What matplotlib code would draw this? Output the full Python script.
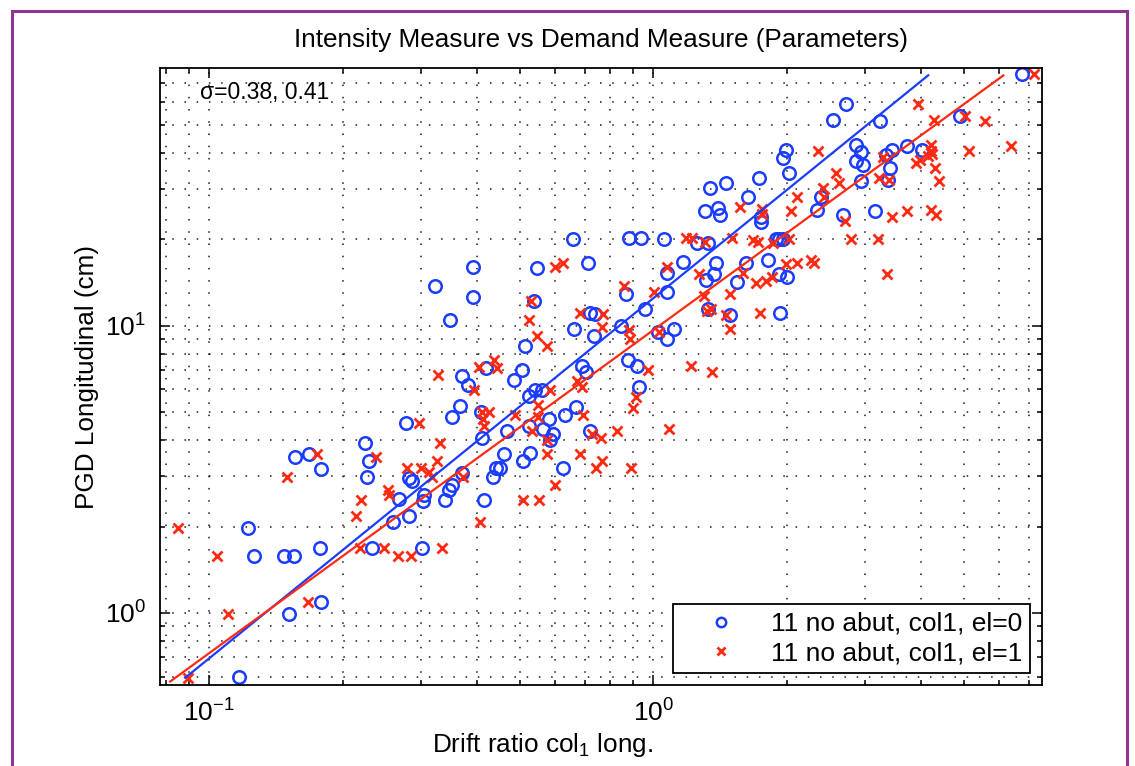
import numpy as np
import matplotlib
matplotlib.use("Agg")
import matplotlib.pyplot as plt
from matplotlib.patches import Rectangle
from matplotlib.ticker import NullFormatter

plt.rcParams['font.family'] = ['Liberation Sans', 'DejaVu Sans']
plt.rcParams['mathtext.fontset'] = 'custom'
plt.rcParams['mathtext.rm'] = 'Liberation Sans'
plt.rcParams['mathtext.it'] = 'Liberation Sans:italic'
plt.rcParams['mathtext.bf'] = 'Liberation Sans:bold'

# el=0 records: drift ratio (col1, long.) and PGD longitudinal (cm)
drift_el0 = [0.1223, 0.1264, 0.147, 0.155, 0.178, 0.151, 0.179, 0.117, 0.156, 0.168,
             0.179, 0.277, 0.224, 0.229, 0.227, 0.268, 0.282, 0.286, 0.259, 0.282,
             0.233, 0.301, 0.304, 0.303, 0.339, 0.346, 0.353, 0.352, 0.367, 0.323,
             0.393, 0.393, 0.349, 0.547, 0.540, 0.513, 0.506, 0.485, 0.420, 0.371,
             0.383, 0.410, 0.412, 0.468, 0.524, 0.541, 0.562, 0.525, 0.564, 0.583,
             0.460, 0.442, 0.452, 0.435, 0.527, 0.510, 0.416, 0.371, 0.659, 0.882,
             0.940, 1.057, 1.256, 1.325, 0.712, 1.169, 1.385, 1.072, 1.37, 1.317,
             1.54, 0.870, 1.072, 0.960, 0.722, 0.738, 0.845, 0.664, 0.734, 1.027,
             1.114, 1.076, 1.325, 1.49, 0.692, 0.706, 0.875, 0.918, 0.927, 0.670,
             0.633, 0.594, 0.586, 0.720, 0.627, 6.77, 2.71, 2.54, 3.24, 4.90,
             2.86, 2.94, 2.86, 2.97, 2.94, 3.45, 3.72, 4.02, 3.35, 3.41,
             3.38, 1.99, 1.955, 2.02, 1.733, 1.63, 1.46, 1.34, 1.31, 1.40,
             1.41, 1.745, 1.745, 2.38, 2.34, 2.68, 3.16, 1.89, 1.92, 1.955,
             1.615, 1.81, 1.92, 2.00, 1.93]
pgd_el0 = [1.97, 1.58, 1.58, 1.58, 1.68, 0.99, 1.09, 0.597, 3.49, 3.58,
           3.18, 4.58, 3.90, 3.38, 2.98, 2.50, 2.96, 2.87, 2.08, 2.18,
           1.68, 1.68, 2.58, 2.46, 2.47, 2.69, 2.79, 4.80, 5.27, 13.8,
           16.0, 12.6, 10.5, 15.95, 12.2, 8.47, 7.0, 6.48, 7.1, 6.7,
           6.2, 5.0, 4.06, 4.29, 5.70, 5.99, 5.99, 4.46, 4.37, 4.73,
           3.58, 3.20, 3.20, 2.97, 3.60, 3.39, 2.47, 3.08, 20.0, 20.2,
           20.2, 20.0, 19.4, 19.4, 16.6, 16.7, 16.6, 15.3, 15.2, 14.4,
           14.2, 12.9, 13.1, 11.4, 11.06, 11.0, 9.95, 9.74, 9.20, 9.55,
           9.74, 9.02, 11.4, 10.9, 7.25, 6.89, 7.61, 7.22, 6.10, 5.20,
           4.88, 4.19, 3.99, 4.30, 3.20, 75.6, 59.2, 52.2, 51.6, 53.7,
           42.7, 40.4, 37.6, 36.2, 31.9, 40.9, 42.2, 40.9, 39.2, 35.3,
           32.2, 41.1, 38.4, 34.0, 32.8, 28.1, 31.5, 30.2, 25.1, 25.7,
           24.4, 23.9, 23.0, 28.1, 25.4, 24.4, 25.1, 20.0, 20.1, 20.0,
           16.5, 16.9, 15.2, 14.8, 11.06]

# el=1 records
drift_el1 = [0.0849, 0.104, 0.110, 0.0898, 0.1665, 0.150, 0.175, 0.2145, 0.220, 0.237,
             0.253, 0.254, 0.218, 0.248, 0.266, 0.284, 0.334, 0.279, 0.300, 0.312,
             0.297, 0.331, 0.326, 0.318, 0.328, 0.373, 0.407, 0.394, 0.406, 0.438,
             0.444, 0.411, 0.413, 0.416, 0.427, 0.487, 0.530, 0.524, 0.547, 0.576,
             0.550, 0.551, 0.533, 0.576, 0.576, 0.510, 0.553, 1.187, 1.219, 1.310,
             1.50, 0.600, 0.625, 1.072, 1.268, 0.860, 1.004, 1.30, 1.49, 1.35,
             1.46, 1.49, 0.683, 0.772, 0.765, 0.882, 0.886, 1.030, 0.586, 0.672,
             0.692, 0.973, 1.214, 1.353, 0.915, 0.899, 0.695, 0.727, 0.763, 0.829,
             1.085, 0.684, 0.765, 0.743, 0.891, 0.600, 7.20, 3.95, 4.28, 5.03,
             5.58, 6.40, 5.15, 4.21, 4.23, 4.25, 4.16, 3.98, 3.91, 4.30,
             4.40, 3.29, 3.22, 3.39, 2.35, 2.58, 2.62, 2.41, 2.42, 2.11,
             2.04, 1.756, 1.57, 1.756, 2.70, 3.44, 3.73, 4.23, 4.33, 1.675,
             1.72, 1.86, 2.02, 2.78, 3.20, 3.36, 1.59, 1.70, 1.79, 1.85,
             1.99, 2.11, 2.27, 2.30, 1.32, 1.74]
pgd_el1 = [1.97, 1.58, 0.99, 0.595, 1.09, 2.98, 3.58, 2.18, 2.47, 3.48,
           2.69, 2.58, 1.68, 1.68, 1.58, 1.58, 1.68, 3.20, 3.20, 3.10,
           4.58, 3.90, 3.38, 2.97, 6.72, 2.98, 2.08, 5.99, 7.20, 7.61,
           7.10, 5.00, 4.73, 4.46, 5.00, 4.90, 12.2, 10.5, 9.20, 8.47,
           5.30, 4.83, 4.29, 4.01, 3.58, 2.47, 2.47, 20.2, 20.2, 19.5,
           20.2, 16.0, 16.6, 16.0, 15.2, 13.8, 13.1, 12.7, 12.9, 11.4,
           10.9, 9.74, 11.06, 11.0, 9.87, 9.68, 9.00, 9.55, 5.99, 6.40,
           6.14, 7.00, 7.22, 6.89, 5.67, 5.19, 4.88, 4.19, 4.06, 4.29,
           4.37, 3.58, 3.38, 3.20, 3.20, 2.78, 75.6, 59.1, 52.2, 53.7,
           51.6, 42.2, 40.6, 42.7, 40.6, 39.6, 39.0, 37.7, 36.8, 35.5,
           31.9, 38.6, 32.8, 32.2, 40.6, 34.0, 31.5, 30.2, 28.1, 28.1,
           25.1, 25.6, 26.0, 24.5, 23.1, 24.0, 25.1, 25.4, 24.4, 19.9,
           19.6, 19.4, 20.1, 20.0, 20.1, 15.2, 15.3, 14.1, 14.3, 14.8,
           16.4, 16.6, 17.0, 16.6, 11.3, 11.06]

# log-log fits: log10(PGD) = slope*log10(drift) + intercept
fit_el0 = (1.254, 1.096)
fit_el1 = (1.125, 0.985)
fit_range_el0 = (0.0883, 4.16)
fit_range_el1 = (0.0817, 6.14)
sigma_text = '\u03c3=0.38, 0.41'

blue = '#1a3cff'
red = '#ff2a12'

fig = plt.figure(figsize=(11.35, 7.66), dpi=100)
ax = fig.add_axes([0.141, 0.1057, 0.777, 0.8055])

ax.plot(drift_el0, pgd_el0, 'o', mfc='none', mec=blue, ms=9, mew=1.8,
        label='11 no abut, col1, el=0')
ax.plot(drift_el1, pgd_el1, 'x', color=red, ms=7, mew=2.0,
        label='11 no abut, col1, el=1')

for fit, rng, c in [(fit_el0, fit_range_el0, blue), (fit_el1, fit_range_el1, red)]:
    lx = np.log10(np.array(rng))
    ax.plot(10**lx, 10**np.polyval(fit, lx), '-', color=c, lw=1.6)

ax.set_xscale('log')
ax.set_yscale('log')
ax.set_xlim(0.0775, 7.5)
ax.set_ylim(0.561, 79)
ax.xaxis.set_minor_formatter(NullFormatter())
ax.yaxis.set_minor_formatter(NullFormatter())

ax.grid(True, which='both', color='black', linestyle=(0, (1, 7)), lw=1.1, alpha=0.9)
ax.tick_params(which='both', direction='in', top=True, right=True, labelsize=19,
               pad=10, width=1.1)
ax.tick_params(which='major', length=7)
ax.tick_params(which='minor', length=3.5)
for s in ax.spines.values():
    s.set_linewidth(1.3)

ax.set_title('Intensity Measure vs Demand Measure (Parameters)', fontsize=18.8, pad=15)
ax.set_xlabel('Drift ratio col$_1$ long.', fontsize=18.8)
ax.xaxis.set_label_coords(0.434, -0.074)
ax.set_ylabel('PGD Longitudinal (cm)', fontsize=18.8, labelpad=4)
ax.text(0.045, 0.95, sigma_text, transform=ax.transAxes, fontsize=16.5,
        va='baseline', ha='left')

leg = ax.legend(loc='lower right', fontsize=19, numpoints=1, fancybox=False,
                edgecolor='black', framealpha=1, borderpad=0.3, handlelength=3.0,
                handletextpad=0.4, labelspacing=0.2, borderaxespad=0.45,
                markerscale=0.75)
leg.get_frame().set_linewidth(1.3)

fig.add_artist(Rectangle((12 / 1135, -0.05), 1115 / 1135, 1.0356, transform=fig.transFigure,
                         fill=False, ec='#8e3592', lw=2.2))

fig.savefig('out.png', dpi=100)
